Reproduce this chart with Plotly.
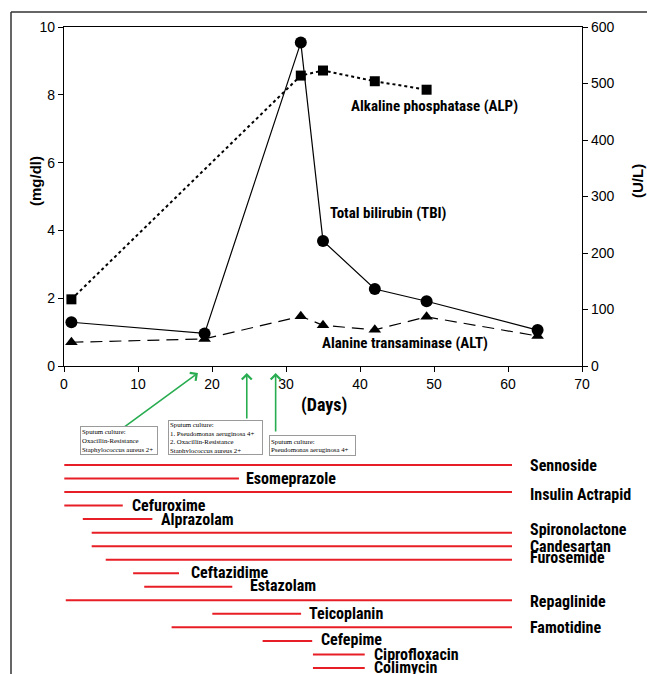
import plotly.graph_objects as go

FW, FH = 647, 674

# ---------------- data ----------------
days_tbi = [1, 19, 32, 35, 42, 49, 64]
tbi_mgdl = [1.29, 0.96, 9.54, 3.69, 2.27, 1.91, 1.06]

days_alp = [1, 32, 35, 42, 49]
alp_ul = [118, 514, 523, 504, 489]

days_alt = [1, 19, 32, 35, 42, 49, 64]
alt_ul = [42, 48, 88, 72, 64, 87, 53]

x_ticks = [0, 10, 20, 30, 40, 50, 60, 70]
y_left_ticks = [0, 2, 4, 6, 8, 10]
y_right_ticks = [0, 100, 200, 300, 400, 500, 600]

culture_days = [18.1, 24.7, 28.6]
culture_texts = [
    "Sputum culture:<br>Oxacillin-Resistance<br>Staphylococcus aureus 2+",
    "Sputum culture:<br>1. Pseudomonas aeruginosa 4+<br>2. Oxacillin-Resistance<br>Staphylococcus aureus 2+",
    "Sputum culture:<br>Pseudomonas aeruginosa 4+",
]

drug_names = ["Sennoside", "Esomeprazole", "Insulin Actrapid", "Cefuroxime", "Alprazolam",
              "Spironolactone", "Candesartan", "Furosemide", "Ceftazidime", "Estazolam",
              "Repaglinide", "Teicoplanin", "Famotidine", "Cefepime", "Ciprofloxacin", "Colimycin"]
drug_start = [0, 0, 0, 0, 2.5, 3.7, 3.7, 5.6, 9.3, 10.8, 0.2, 20.0, 14.5, 26.8, 33.6, 33.6]
drug_end = [60.5, 23.6, 60.5, 7.9, 11.9, 60.5, 60.5, 60.5, 15.5, 22.7, 60.5, 32.0, 60.5,
            33.5, 40.6, 40.6]

# ---------------- style ----------------
label_gap = [16, 5, 16, 7, 7, 16, 16, 16, 10, 16, 16, 6, 16, 7, 7, 7]
label_dy = [0, 0, 2, 0, 0, -3, 0, -2, -1, -1, 1, 0, 0, -1, 0, 0]
NARROW = "Liberation Sans Narrow, Roboto Condensed, Roboto, sans-serif"
ARIAL = "Liberation Sans, Arial, sans-serif"
SERIF = "Liberation Serif, Times New Roman, serif"
RED = "rgb(232,30,38)"
GREEN = "rgb(40,172,80)"

DRUG_X0, DRUG_SCALE = 64.3, 7.4      # drug timeline: pixel of day 0, pixels per day
ROW_Y0, ROW_STEP = 465, 13.53        # drug rows: pixel of first row, pixels per row


def px(x):
    return x / FW


def py(y):
    return 1 - y / FH


fig = go.Figure()

fig.add_trace(go.Scatter(
    x=days_alp, y=alp_ul, yaxis="y2", mode="lines+markers",
    line=dict(color="black", width=2, dash="dot"),
    marker=dict(symbol="square", size=10, color="black"), name="ALP"))
fig.add_trace(go.Scatter(
    x=days_alt, y=alt_ul, yaxis="y2", mode="lines+markers",
    line=dict(color="black", width=1.2, dash="12px,7px"),
    marker=dict(symbol="triangle-up", size=11, color="black"), name="ALT"))
fig.add_trace(go.Scatter(
    x=days_tbi, y=tbi_mgdl, mode="lines+markers",
    line=dict(color="black", width=1.2),
    marker=dict(symbol="circle", size=12, color="black"), name="TBI"))

# drug timeline
dx, dy = [], []
for i, (s, e) in enumerate(zip(drug_start, drug_end)):
    dx += [s, e, None]
    dy += [i, i, None]
fig.add_trace(go.Scatter(x=dx, y=dy, xaxis="x3", yaxis="y3", mode="lines",
                         line=dict(color=RED, width=2), name="drugs"))

annotations = []
for i, name in enumerate(drug_names):
    annotations.append(dict(
        x=drug_end[i], y=i, xref="x3", yref="y3", text="<b>%s</b>" % name,
        showarrow=False, xanchor="left", yanchor="middle",
        xshift=label_gap[i], yshift=-label_dy[i],
        font=dict(family=NARROW, size=16, color="black")))

# series labels
series_labels = [
    (434.5, 106, "<b>Alkaline phosphatase (ALP)</b>"),
    (388, 213, "<b>Total bilirubin (TBI)</b>"),
    (405, 343, "<b>Alanine transaminase (ALT)</b>"),
]
for lx, ly, t in series_labels:
    annotations.append(dict(x=px(lx), y=py(ly), xref="paper", yref="paper", text=t,
                            showarrow=False, xanchor="center", yanchor="middle",
                            font=dict(family=NARROW, size=15, color="black")))

# axis titles
annotations += [
    dict(x=px(35), y=py(181), xref="paper", yref="paper", text="<b>(mg/dl)</b>",
         textangle=-90, showarrow=False, xanchor="center", yanchor="middle",
         font=dict(family=ARIAL, size=15, color="black")),
    dict(x=px(637), y=py(181), xref="paper", yref="paper", text="<b>(U/L)</b>",
         textangle=-90, showarrow=False, xanchor="center", yanchor="middle",
         font=dict(family=ARIAL, size=15, color="black")),
    dict(x=px(324), y=py(405), xref="paper", yref="paper", text="<b>(Days)</b>",
         showarrow=False, xanchor="center", yanchor="middle",
         font=dict(family=NARROW, size=18, color="black")),
]

# culture arrows
tails = [(-75, 55), (0, 47), (0, 60)]
for d, (ax, ay) in zip(culture_days, tails):
    annotations.append(dict(
        x=d, y=0, xref="x", yref="y", yshift=-7, text="", showarrow=True,
        ax=ax, ay=ay, arrowhead=4, arrowsize=1.2, arrowwidth=1.6, arrowcolor=GREEN,
        standoff=0, startstandoff=0))

# culture boxes: (left, top, width, height) in pixels
box_geom = [(80, 426, 78, 29), (168, 420, 95, 35), (269, 435, 87, 21)]
for (bx, by, bw, bh), t in zip(box_geom, culture_texts):
    annotations.append(dict(
        x=px(bx), y=py(by), xref="paper", yref="paper", xanchor="left", yanchor="top",
        width=bw - 4, height=bh - 4, valign="middle",
        text=t, align="left", showarrow=False, bgcolor="white",
        bordercolor="#9a9a9a", borderwidth=1, borderpad=1,
        font=dict(family=SERIF, size=6.8, color="black")))

shapes = [
    dict(type="line", xref="paper", yref="paper", x0=px(11), x1=1.02, y0=py(12), y1=py(12),
         line=dict(color="#333333", width=1.5)),
    dict(type="line", xref="paper", yref="paper", x0=px(11), x1=px(11), y0=py(12), y1=-0.02,
         line=dict(color="#333333", width=1.5)),
]

axis_common = dict(showline=True, linecolor="black", linewidth=1.2, ticks="outside",
                   ticklen=5, tickwidth=1.2, tickcolor="black", showgrid=False,
                   zeroline=False, automargin=False,
                   tickfont=dict(family=ARIAL, size=14, color="black"))

fig.update_layout(
    width=FW, height=FH,
    margin=dict(l=0, r=0, t=0, b=0, pad=0, autoexpand=False),
    paper_bgcolor="white", plot_bgcolor="rgba(0,0,0,0)",
    showlegend=False,
    xaxis=dict(domain=[px(64), px(582)], range=[0, 70], tickvals=x_ticks, anchor="y",
               mirror=True, **axis_common),
    yaxis=dict(domain=[py(366), py(27)], range=[0, 10], tickvals=y_left_ticks, anchor="x",
               **axis_common),
    yaxis2=dict(domain=[py(366), py(27)], range=[0, 600], tickvals=y_right_ticks,
                overlaying="y", side="right", anchor="x", **axis_common),
    xaxis3=dict(domain=[0, 1], range=[-DRUG_X0 / DRUG_SCALE, (FW - DRUG_X0) / DRUG_SCALE],
                anchor="y3", visible=False),
    yaxis3=dict(domain=[0, 1], range=[(FH - ROW_Y0) / ROW_STEP, -ROW_Y0 / ROW_STEP],
                anchor="x3", visible=False),
    annotations=annotations,
    shapes=shapes,
)

fig.write_html(
    "out.html",
    config={"displayModeBar": False},
    post_script="document.body.style.margin='0px';document.body.style.overflow='hidden';",
)
